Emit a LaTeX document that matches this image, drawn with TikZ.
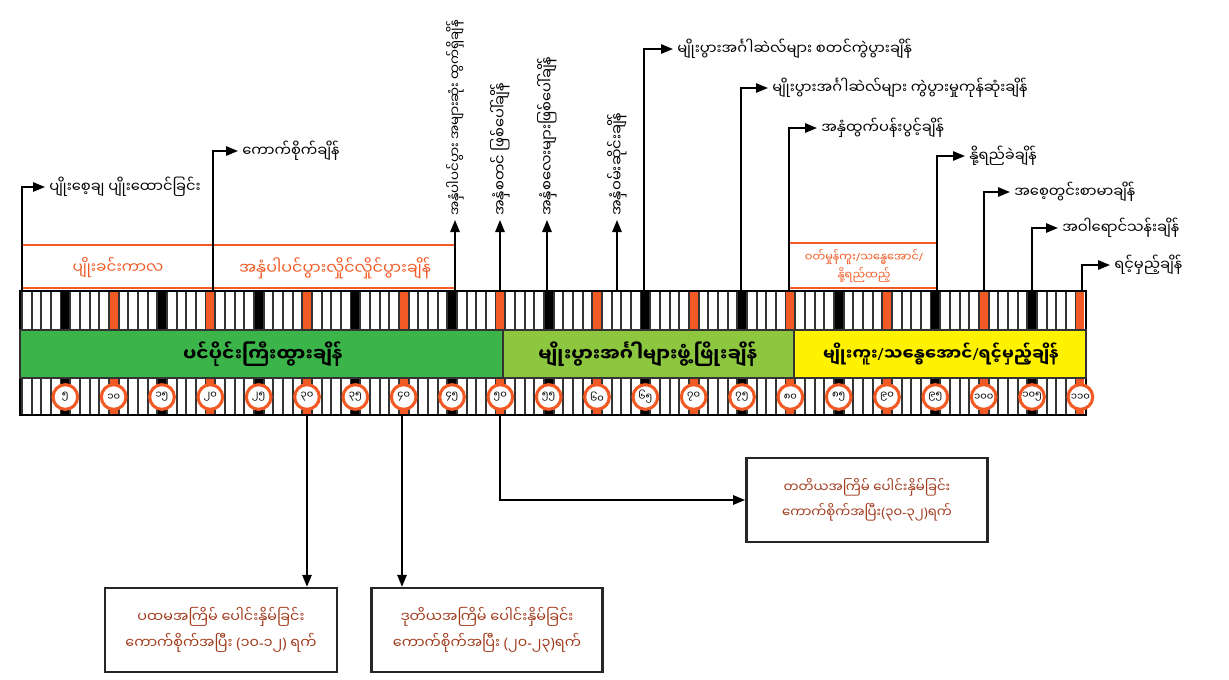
\documentclass[tikz,border=0pt]{standalone}
\usepackage{fontspec}
\newfontfamily\mm[Script=Myanmar]{Noto Sans Myanmar UI}
\newfontfamily\lat{Noto Sans}
\newcommand\Sl{{\lat/}}
\newcommand\Lp{{\lat(}}
\newcommand\Rp{{\lat)}}
\newcommand\Hy{{\lat-}}
\usetikzlibrary{arrows.meta}
\definecolor{dgreen}{HTML}{3BB54A}
\definecolor{lgreen}{HTML}{8DC63F}
\definecolor{yel}{HTML}{FFF200}
\definecolor{org}{HTML}{F15A24}
\definecolor{brn}{HTML}{A03A1C}
\definecolor{stripe}{HTML}{333333}
\tikzset{
  arr/.style={draw=black, line width=1.4pt, -{Triangle[length=9pt,width=7pt]}},
  lbl/.style={anchor=west, inner sep=3pt, font=\mm\fontsize{11}{13}\selectfont},
  vlbl/.style={rotate=90, anchor=west, inner sep=3pt, font=\mm\fontsize{11}{13}\selectfont},
  obox/.style={font=\mm\fontsize{11.5}{13}\selectfont, text=org, align=center, inner sep=0pt},
  bartxt/.style={font=\mm\bfseries\fontsize{14}{16}\selectfont, inner sep=0pt},
  lowbox/.style={draw=black!85, line width=1.8pt, align=center, text=brn,
    font=\mm\fontsize{10.8}{19.5}\selectfont, inner sep=0pt},
  circ/.style={circle, draw=org, line width=2.3pt, fill=white, minimum size=18.5pt,
    inner sep=0pt, font=\mm\fontsize{7.5}{8}\selectfont},
}
\begin{document}
\begin{tikzpicture}[x=0.75pt,y=-0.75pt]
\useasboundingbox (0,0) rectangle (1229,679);
% ---------- strips ----------
\fill[white] (20,291) rectangle (1086,415);
\foreach \d in {0,...,109}{
  \pgfmathsetmacro\xx{17+9.667*(\d+0.5)}
  \draw[stripe, line width=1.5pt] (\xx,291) -- (\xx,330);
  \draw[stripe, line width=1.5pt] (\xx,378) -- (\xx,415);
}
\foreach \k in {1,3,...,21}{
  \pgfmathsetmacro\xx{17+9.667*5*\k}
  \fill[black] (\xx-4,291) rectangle (\xx+4,330);
  \fill[black] (\xx-4,378) rectangle (\xx+4,415);
}
\foreach \k in {2,4,...,22}{
  \pgfmathsetmacro\xx{17+9.667*5*\k}
  \fill[org] (\xx-4,291) rectangle (\xx+4,330);
  \fill[org] (\xx-4,378) rectangle (\xx+4,415);
}
\draw[black, line width=1pt] (20,291) rectangle (1086,330);
\draw[black, line width=1pt] (20,378) rectangle (1086,415);
% ---------- stage bars ----------
\draw[black!80, line width=1pt, fill=dgreen] (20,330) rectangle (503,378);
\draw[black!80, line width=1pt, fill=lgreen] (503,330) rectangle (794,378);
\draw[black!80, line width=1pt, fill=yel] (794,330) rectangle (1086,378);
\node[bartxt] (bar1) at (263,354) {ပင်ပိုင်းကြီးထွားချိန်};
\node[bartxt] (bar2) at (648,354) {မျိုးပွားအင်္ဂါများဖွံ့ဖြိုးချိန်};
\node[bartxt, font=\mm\bfseries\fontsize{12.5}{14}\selectfont] (bar3) at (941,354) {မျိုးကူး\Sl သန္ဓေအောင်\Sl ရင့်မှည့်ချိန်};
% ---------- day circles ----------
\foreach \k/\t in {1/၅,2/၁၀,3/၁၅,4/၂၀,5/၂၅,6/၃၀,7/၃၅,8/၄၀,9/၄၅,10/၅၀,11/၅၅,
  12/၆၀,13/၆၅,14/၇၀,15/၇၅,16/၈၀,17/၈၅,18/၉၀,19/၉၅,20/၁၀၀,21/၁၀၅,22/၁၁၀}{
  \pgfmathsetmacro\xx{17+9.667*5*\k}
  \node[circ] (c\k) at (\xx,397) {\t};
}
% ---------- orange period boxes ----------
\draw[org, line width=1.2pt] (22,245) -- (455,245);
\draw[org, line width=1.2pt] (22,288) -- (455,288);
\draw[org, line width=1.2pt] (790,243) -- (937,243);
\draw[org, line width=1.2pt] (790,288) -- (937,288);
\node[obox] (p1) at (118,268) {ပျိုးခင်းကာလ};
\node[obox, font=\mm\fontsize{12}{14}\selectfont] (p2) at (335,268) {အနှံပါပင်ပွားလှိုင်လှိုင်ပွားချိန်};
\node[obox, font=\mm\fontsize{8.5}{14}\selectfont] (p3) at (864,266) {ဝတ်မှုန်ကူး\Sl သန္ဓေအောင်\Sl\\နို့ရည်ထည့်};
% ---------- base coordinates ----------
\coordinate (b1) at (22,291);
\coordinate (b2) at (213,291);
\coordinate (b3) at (455,291);
\coordinate (b4) at (500,291);
\coordinate (b5) at (547,291);
\coordinate (b6) at (617,291);
\coordinate (b7) at (644,291);
\coordinate (b8) at (741,291);
\coordinate (b9) at (789,291);
\coordinate (b10) at (937,291);
\coordinate (b11) at (984,291);
\coordinate (b12) at (1032,291);
\coordinate (b13) at (1082,291);
% ---------- labels ----------
\node[lbl] (l1) at (45,187) {ပျိုးစေ့ချ ပျိုးထောင်ခြင်း};
\node[lbl] (l2) at (238,151) {ကောက်စိုက်ချိန်};
\node[vlbl, font=\mm\fontsize{10}{12}\selectfont] (v1) at (455,220) {အနှံပါပင်ပွား အများဆုံး ထွက်ရှိချိန်};
\node[vlbl] (v2) at (500,220) {အနှံစတင် ဖြစ်ပေါ်ချိန်};
\node[vlbl] (v3) at (547,220) {အနှံစလေးများဖြစ်ပေါ်ချိန်};
\node[vlbl] (v4) at (617,220) {အနှံဝမ်းဆိုင်းချိန်};
\node[lbl] (l7) at (673,49) {မျိုးပွားအင်္ဂါဆဲလ်များ စတင်ကွဲပွားချိန်};
\node[lbl] (l8) at (768,88) {မျိုးပွားအင်္ဂါဆဲလ်များ ကွဲပွားမှုကုန်ဆုံးချိန်};
\node[lbl] (l9) at (817,128) {အနှံထွက်ပန်းပွင့်ချိန်};
\node[lbl] (l10) at (965,156) {နို့ရည်ခဲချိန်};
\node[lbl] (l11) at (1010,192) {အစေ့တွင်းစာမာချိန်};
\node[lbl] (l12) at (1058,228) {အဝါရောင်သန်းချိန်};
\node[lbl] (l13) at (1110,265) {ရင့်မှည့်ချိန်};
% ---------- up arrows ----------
\draw[arr] (b1) |- (l1.west);
\draw[arr] (b2) |- (l2.west);
\draw[arr] (b3) -- (v1.west);
\draw[arr] (b4) -- (v2.west);
\draw[arr] (b5) -- (v3.west);
\draw[arr] (b6) -- (v4.west);
\draw[arr] (b7) |- (l7.west);
\draw[arr] (b8) |- (l8.west);
\draw[arr] (b9) |- (l9.west);
\draw[arr] (b10) |- (l10.west);
\draw[arr] (b11) |- (l11.west);
\draw[arr] (b12) |- (l12.west);
\draw[arr] (b13) |- (l13.west);
% ---------- weeding boxes ----------
\node[lowbox, minimum width=174pt, minimum height=63pt] (w1) at (221,630)
  {ပထမအကြိမ် ပေါင်းနှိမ်ခြင်း\\ကောက်စိုက်အပြီး \Lp ၁၀\Hy ၁၂\Rp\ ရက်};
\node[lowbox, minimum width=173pt, minimum height=63pt] (w2) at (487,630)
  {ဒုတိယအကြိမ် ပေါင်းနှိမ်ခြင်း\\ကောက်စိုက်အပြီး \Lp ၂၀\Hy ၂၃\Rp ရက်};
\node[lowbox, font=\mm\fontsize{10}{19}\selectfont, minimum width=181pt, minimum height=63pt] (w3) at (867,500)
  {တတိယအကြိမ် ပေါင်းနှိမ်ခြင်း\\ကောက်စိုက်အပြီး\Lp ၃၀\Hy ၃၂\Rp ရက်};
\coordinate (d1) at (307,415);
\coordinate (d2) at (402,415);
\coordinate (d3) at (500,415);
\draw[arr] (d1) -- (d1 |- w1.north);
\draw[arr] (d2) -- (d2 |- w2.north);
\draw[arr] (d3) |- (w3.west);
\end{tikzpicture}
\end{document}
